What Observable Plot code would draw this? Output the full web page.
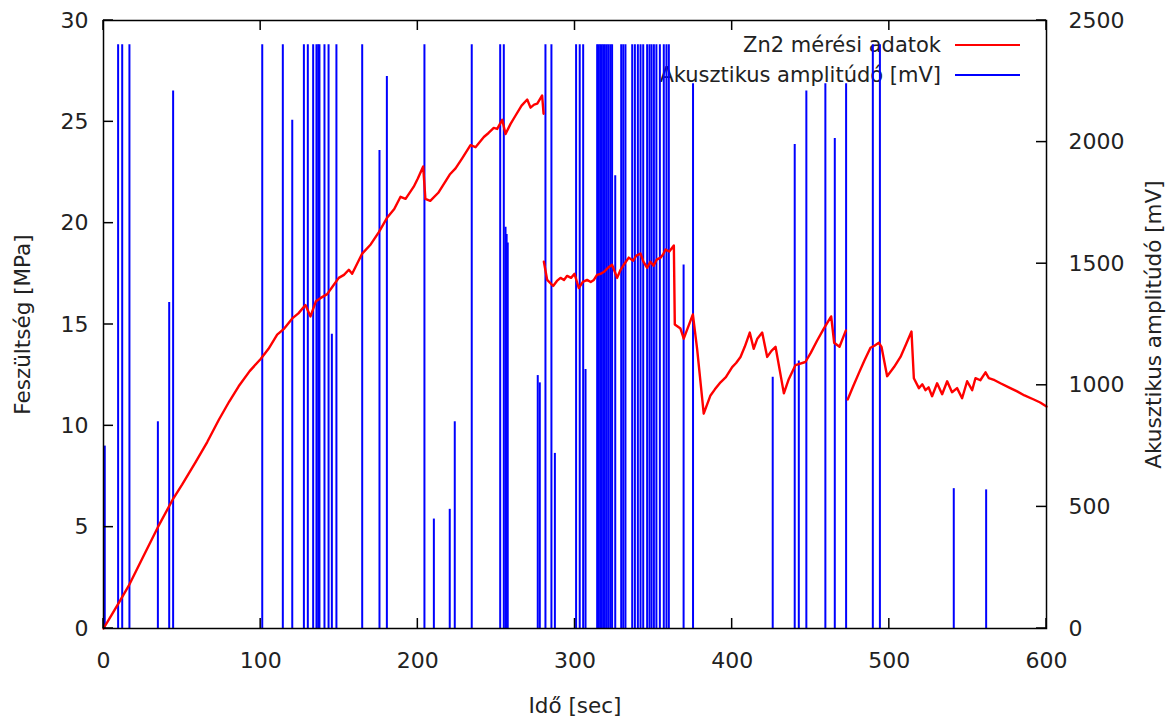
<!DOCTYPE html>
<html><head><meta charset="utf-8">
<script src="https://cdn.jsdelivr.net/npm/d3@7"></script>
<script src="https://cdn.jsdelivr.net/npm/@observablehq/plot@0.6"></script>
<style>body{margin:0;background:#fff}</style>
</head><body><div id="chart"></div>
<script>
// Acoustic impulses: time [sec] and amplitude [mV]
const barTime = [0.8, 9.3, 11.9, 16.5, 34.6, 41.8, 44.3, 101, 114.1, 120.1, 127.5, 130.0, 133.4, 135.5, 136.6, 137.4, 140.6, 143.2, 145.3, 148.2, 164.6, 175.6, 180.3,
  204.2, 210.2, 220.3, 223.5, 234.3, 252.4, 254.7, 255.8, 256.5, 257.2, 276.3, 277.6, 281.2, 285.0, 287.2,
  300.7, 303.0, 305.2, 306.7, 314.1, 315.0, 316.0, 317.0, 318.0, 319.0, 320.2, 321.3, 322.5, 323.6, 325.6,
  329.4, 330.7, 332.1, 336.4, 338.1, 340.0, 341.7, 343.4, 345.9, 347.4, 348.7, 350.2, 351.8, 354.0, 356.5, 358.2, 359.7,
  369.1, 375.1, 425.8, 439.8, 442.4, 447.2, 459.3, 465.3, 472.5, 489.5, 494.0, 541.0, 561.6];
const barMV = [750, 2400, 2400, 2400, 850, 1340, 2210, 2400, 2400, 2090, 2400, 2400, 2400, 2400, 2400, 2400, 2400, 2400, 1210, 2400, 2400, 1965, 2270,
  2400, 450, 490, 850, 2400, 2400, 2400, 1650, 1620, 1585, 1040, 1010, 2400, 2400, 720,
  2400, 2400, 2400, 1065, 2400, 2400, 2400, 2400, 2400, 2400, 2400, 2400, 2400, 2400, 1862,
  2400, 2400, 2400, 2400, 2400, 2400, 2400, 2400, 2400, 2400, 2400, 2400, 2400, 2400, 2400, 2400, 2400,
  1495, 2240, 1033, 1990, 1100, 2210, 2240, 2015, 2240, 2400, 2400, 575, 570];

// Stress curve: time [sec], stress [MPa]; segmentStarts mark where the record breaks
const stressTime = [0, 5, 10, 16, 25, 34.6, 44.3, 50, 58.5, 66, 73.4, 80, 86, 93, 100, 105, 110.5, 115, 120.1, 124, 128.5, 131.7, 135.2, 138, 142.3, 146, 149.7, 153, 156.1, 158.2, 164.6, 170, 175.2, 180.3, 185, 189, 192.2, 197.4, 200, 203.4, 204.8, 207.9, 213, 220.3, 224, 228.2, 233.5, 236.7, 242, 245, 248.3, 250.5, 253.7, 255.8, 259, 262.1, 266, 269.6, 271.7, 274, 276, 279.1, 280.0,
  280.2, 282.3, 286.1, 288.5, 290.8, 293, 295, 297.5, 299.7, 302.4, 305, 307.7, 310, 312, 314, 316.2, 318.5, 321, 323.6, 326.8, 329, 331.5, 334.2, 337, 339, 341.7, 343.5, 345.9, 348, 350, 352, 354.4, 356, 357.6, 360, 362.9, 363.5, 367.1, 369.2, 375, 377.7, 381.9, 386.2, 389, 392.6, 396, 400, 402.5, 405.3, 408, 411.2, 413.7, 416, 419.1, 422.3, 425, 427.6, 432.9, 436, 440.3, 446.6, 450, 454, 458.3, 463, 464.9, 468.3, 472.3,
  473.5, 477, 480.6, 484, 488, 490.5, 493.3, 495, 498.6, 503, 507.1, 510.5, 514.1, 515.6, 518.8, 521, 523, 525, 527.2, 530.4, 533.6, 536.8, 539.9, 543.1, 546.3, 549.5, 552.7, 554.8, 557.9, 561.2, 563.3, 567, 570.7, 576, 581.3, 586, 591.9, 596, 600];
const stressMPa = [0, 0.65, 1.3, 2.1, 3.5, 5.0, 6.4, 7.1, 8.2, 9.2, 10.3, 11.2, 11.95, 12.7, 13.3, 13.8, 14.5, 14.8, 15.3, 15.55, 15.96, 15.4, 16.15, 16.3, 16.5, 16.9, 17.3, 17.45, 17.7, 17.5, 18.5, 18.95, 19.56, 20.25, 20.7, 21.3, 21.2, 21.8, 22.2, 22.8, 21.2, 21.1, 21.5, 22.4, 22.7, 23.2, 23.85, 23.75, 24.25, 24.45, 24.7, 24.65, 25.1, 24.4, 24.9, 25.3, 25.8, 26.1, 25.7, 25.85, 25.9, 26.3, 25.4,
  18.1, 17.2, 16.9, 17.15, 17.3, 17.2, 17.4, 17.3, 17.5, 16.8, 17.1, 17.2, 17.1, 17.2, 17.45, 17.5, 17.6, 17.8, 17.95, 17.3, 17.7, 18.0, 18.3, 18.15, 18.4, 18.5, 18.1, 17.8, 18.1, 17.9, 18.2, 18.3, 18.45, 18.7, 18.6, 18.9, 15.0, 14.8, 14.3, 15.5, 13.8, 10.6, 11.5, 11.8, 12.15, 12.4, 12.9, 13.1, 13.4, 13.9, 14.6, 13.8, 14.3, 14.6, 13.4, 13.7, 13.9, 11.6, 12.3, 13.0, 13.15, 13.6, 14.2, 14.8, 15.4, 14.1, 13.9, 14.7,
  11.3, 11.95, 12.6, 13.2, 13.85, 13.95, 14.1, 13.9, 12.45, 12.9, 13.4, 14.0, 14.65, 12.35, 11.86, 12.05, 11.76, 11.9, 11.46, 12.1, 11.56, 12.2, 11.66, 11.86, 11.36, 12.2, 11.76, 12.35, 12.25, 12.64, 12.35, 12.25, 12.1, 11.9, 11.7, 11.5, 11.3, 11.15, 10.95];
const segmentStarts = [0, 280.2, 473.5];

const xTicks = [0, 100, 200, 300, 400, 500, 600];
const yTicks = [0, 5, 10, 15, 20, 25, 30];
const y2Ticks = [0, 500, 1000, 1500, 2000, 2500];
const legendLabels = ["Zn2 mérési adatok", "Akusztikus amplitúdó [mV]"];
const seriesColors = ["#ff0000", "#0000ff"];

const MPA_MAX = 30, MV_MAX = 2500;
const mvToMpa = v => v * MPA_MAX / MV_MAX;

const bars = barTime.map((t, i) => ({t, mv: barMV[i]}));
const stress = stressTime.map((t, i) => ({t, s: stressMPa[i], seg: d3.bisectRight(segmentStarts, t) - 1}));

const W = 1173, H = 716, ML = 103, MR = 127, MT = 20, MB = 88, TICK = 10;

const textFont = "DejaVu Sans, Verdana, sans-serif";

function legend(index, scales, values, dims) {
  const g = d3.create("svg:g").attr("font-family", textFont).attr("font-size", 21).attr("fill", "#222");
  const right = dims.width - dims.marginRight;
  legendLabels.forEach((lab, i) => {
    const y = dims.marginTop + 25 + i * 30;
    g.append("text").attr("x", right - 105).attr("y", y).attr("dy", "0.35em").attr("text-anchor", "end").text(lab);
    g.append("line").attr("x1", right - 91).attr("x2", right - 26).attr("y1", y).attr("y2", y)
      .attr("stroke", seriesColors[i]).attr("stroke-width", 2);
  });
  return g.node();
}

// gnuplot-style inward ticks, placed through Plot's own x and y scales
function inwardTicks(index, scales, values, dims) {
  const g = d3.create("svg:g").attr("stroke", "#000").attr("stroke-width", 1.5);
  const left = dims.marginLeft, right = dims.width - dims.marginRight;
  const top = dims.marginTop, bottom = dims.height - dims.marginBottom;
  for (const t of xTicks) {
    const x = scales.x(t);
    g.append("line").attr("x1", x).attr("x2", x).attr("y1", bottom).attr("y2", bottom - TICK);
    g.append("line").attr("x1", x).attr("x2", x).attr("y1", top).attr("y2", top + TICK);
  }
  for (const v of yTicks) {
    const y = scales.y(v);
    g.append("line").attr("x1", left).attr("x2", left + TICK).attr("y1", y).attr("y2", y);
  }
  for (const v of y2Ticks) {
    const y = scales.y(mvToMpa(v));
    g.append("line").attr("x1", right).attr("x2", right - TICK).attr("y1", y).attr("y2", y);
  }
  return g.node();
}

const noText = () => "";
const chart = Plot.plot({
  width: W, height: H,
  marginLeft: ML, marginRight: MR, marginTop: MT, marginBottom: MB,
  style: {background: "#fff", fontFamily: textFont, fontSize: "22px", color: "#222"},
  x: {domain: [0, 600]},
  y: {domain: [0, 30]},
  marks: [
    legend,
    Plot.ruleX(bars, {x: "t", y1: 0, y2: d => mvToMpa(d.mv), stroke: seriesColors[1], strokeWidth: 2}),
    Plot.line(stress, {x: "t", y: "s", z: "seg", stroke: seriesColors[0], strokeWidth: 2.4, curve: "linear"}),
    inwardTicks,
    // tick labels
    Plot.axisX(xTicks, {anchor: "bottom", tickSize: 0, tickPadding: 24, fontSize: 22, label: null}),
    Plot.axisY(yTicks, {anchor: "left", tickSize: 0, tickPadding: 15, fontSize: 22, label: null}),
    Plot.axisY(y2Ticks.map(mvToMpa), {anchor: "right", tickSize: 0, tickPadding: 22, fontSize: 22,
      tickFormat: d => String(Math.round(d * MV_MAX / MPA_MAX)), label: null}),
    // axis titles
    Plot.axisX(xTicks, {anchor: "bottom", tickSize: 0, tickFormat: noText, fontSize: 21.5,
      label: "Idő [sec]", labelAnchor: "center", labelArrow: "none", labelOffset: 84}),
    Plot.axisY(yTicks, {anchor: "left", tickSize: 0, tickFormat: noText, fontSize: 21.5,
      label: "Feszültség [MPa]", labelAnchor: "center", labelArrow: "none", labelOffset: 89}),
    Plot.axisY(y2Ticks.map(mvToMpa), {anchor: "right", tickSize: 0, tickFormat: noText, fontSize: 21.5,
      label: "Akusztikus amplitúdó [mV]", labelAnchor: "center", labelArrow: "none", labelOffset: 114}),
    Plot.frame({stroke: "#000", strokeWidth: 1.5})
  ]
});
document.getElementById("chart").append(chart);
</script>
</body></html>
